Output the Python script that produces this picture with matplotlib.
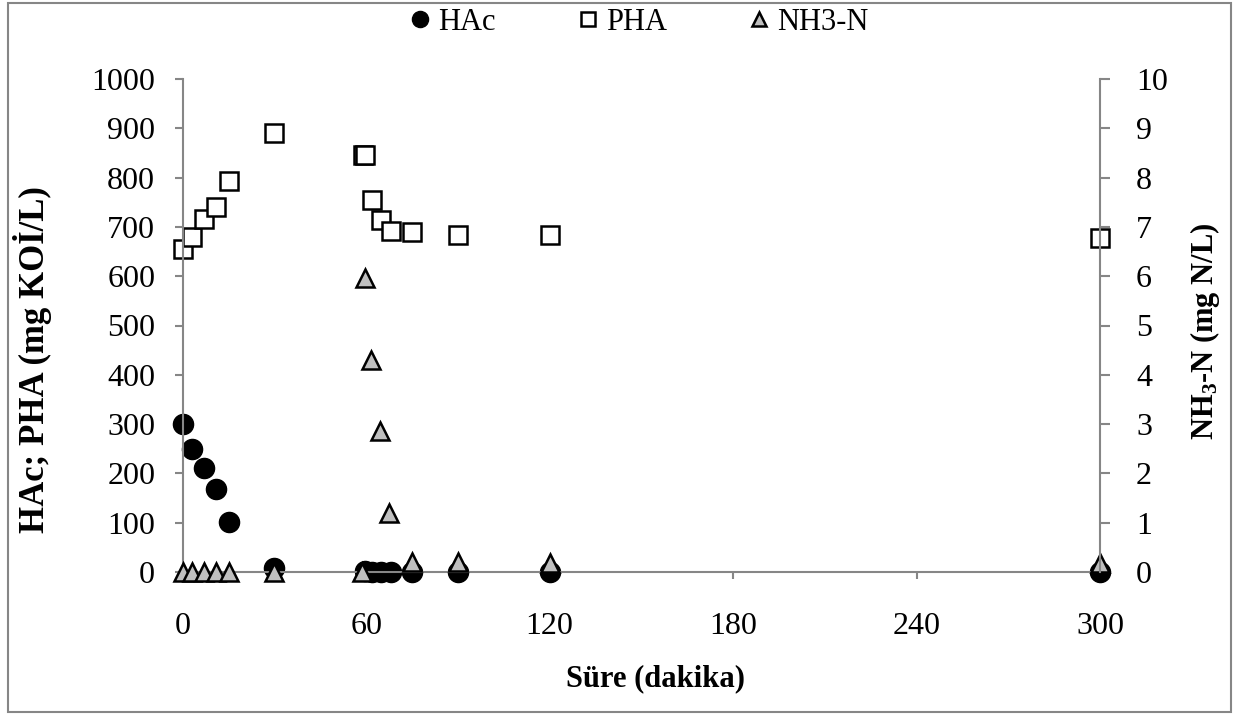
import matplotlib
matplotlib.use("Agg")
import matplotlib.pyplot as plt
from matplotlib.patches import Rectangle

plt.rcParams['font.family'] = ['Liberation Serif', 'DejaVu Serif']
plt.rcParams['mathtext.default'] = 'regular'

# data
hac_t = [0, 3, 7, 11, 15, 30, 59.5, 62, 65, 68, 75, 90, 120, 300]
hac_v = [300, 250, 211, 168, 101, 9, 3, 0, 0, 0, 0, 0, 0, 0]

pha_t = [0, 3, 7, 11, 15, 30, 59, 59.7, 62, 65, 68, 75, 90, 120, 300]
pha_v = [656, 680, 717, 740, 794, 890, 846, 846, 754, 713, 692, 690, 684, 684, 678]

nh3_t = [0, 3, 7, 11, 15, 30, 58.5, 59.5, 61.6, 64.5, 67.6, 75, 90, 120, 300]
nh3_v = [0, 0, 0, 0, 0, 0, 0, 5.96, 4.30, 2.85, 1.19, 0.21, 0.21, 0.19, 0.18]

x_ticks = [0, 60, 120, 180, 240, 300]
left_ticks = list(range(0, 1001, 100))
right_ticks = list(range(0, 11))

grey = '#868686'
fs = 23

fig = plt.figure(figsize=(12.39, 7.15), dpi=100)
fig.add_artist(Rectangle((8 / 1239, 1 - 712 / 715), (1231 - 8) / 1239, (712 - 3) / 715,
                         transform=fig.transFigure, fill=False, edgecolor=grey, lw=1.5))

ax = fig.add_axes([182.7 / 1239, 1 - 572 / 715, 917.3 / 1239, 493 / 715])
ax2 = ax.twinx()

h1, = ax.plot(hac_t, hac_v, 'o', ms=14.5, mfc='black', mec='black', mew=1, clip_on=False, label='HAc')
h2, = ax.plot(pha_t, pha_v, 's', ms=12.5, mfc='white', mec='black', mew=1.8, clip_on=False, label='PHA')
h3, = ax2.plot(nh3_t, nh3_v, '^', ms=13, mfc='#BFBFBF', mec='black', mew=1.8, clip_on=False, label='NH3-N')

ax.set_xlim(0, 300)
ax.set_ylim(0, 1000)
ax2.set_ylim(0, 10)
ax.set_xticks(x_ticks)
ax.set_yticks(left_ticks)
ax2.set_yticks(right_ticks)

for a in (ax, ax2):
    for s in a.spines.values():
        s.set_color(grey)
        s.set_linewidth(1.5)
    a.spines['top'].set_visible(False)
ax.spines['right'].set_visible(False)
ax2.spines['left'].set_visible(False)
ax2.spines['bottom'].set_visible(False)

ax.tick_params(axis='x', direction='out', length=5, width=1.5, color=grey, labelsize=fs, pad=24)
ax.tick_params(axis='y', direction='out', length=5.8, width=1.5, color=grey, labelsize=fs, pad=14)
ax2.tick_params(axis='y', direction='out', length=7, width=1.5, color=grey, labelsize=fs, pad=19)

ax.set_xlabel('Süre (dakika)', fontsize=22, fontweight='bold')
ax.xaxis.set_label_coords(0.515, -0.187)
ax.set_ylabel('HAc; PHA (mg KOİ/L)', fontsize=25, fontweight='bold')
ax.yaxis.set_label_coords(-0.142, 0.43)
ax2.set_ylabel('NH$_3$-N (mg N/L)', fontsize=22, fontweight='bold')
ax2.yaxis.set_label_coords(1.096, 0.489)

leg = fig.legend([h1, h2, h3], ['HAc', 'PHA', 'NH3-N'], loc='center', bbox_to_anchor=(0.515, 0.969),
                 ncol=3, frameon=False, prop={'family': 'Liberation Serif', 'size': 22, 'style': 'normal'},
                 markerscale=0.8, handlelength=0.8, handletextpad=0.2, columnspacing=2.6)

fig.savefig('out.png', dpi=100)
